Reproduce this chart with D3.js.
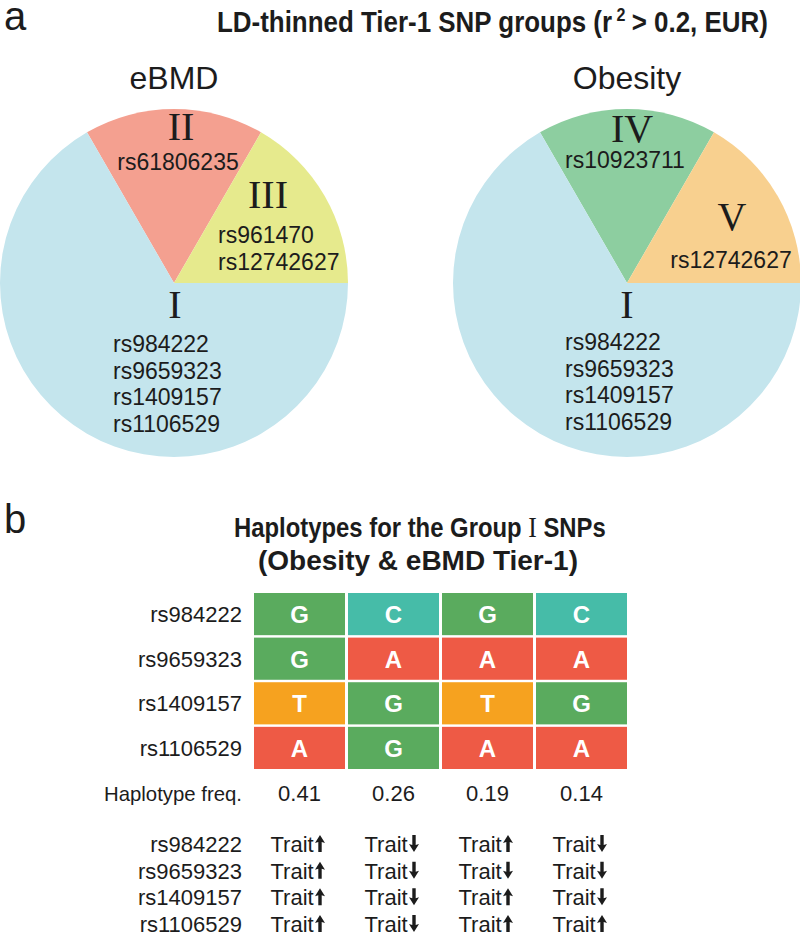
<!DOCTYPE html>
<html><head><meta charset="utf-8">
<script src="https://cdn.jsdelivr.net/npm/d3@7"></script>
<style>html,body{margin:0;padding:0;background:#fff}svg{display:block}</style>
</head><body>
<script>
// ---------- DATA ----------
const pieTraits = ["eBMD", "Obesity"];
const eBMDGroups = ["II", "III", "I"];
const eBMDShares = [1, 1, 4];
const eBMDSnps = [["rs61806235"], ["rs961470", "rs12742627"], ["rs984222", "rs9659323", "rs1409157", "rs1106529"]];
const obesityGroups = ["IV", "V", "I"];
const obesityShares = [1, 1, 4];
const obesitySnps = [["rs10923711"], ["rs12742627"], ["rs984222", "rs9659323", "rs1409157", "rs1106529"]];

const hapSnps = ["rs984222", "rs9659323", "rs1409157", "rs1106529"];
const hapAlleles = [["G", "C", "G", "C"], ["G", "A", "A", "A"], ["T", "G", "T", "G"], ["A", "G", "A", "A"]];
const hapFreq = [0.41, 0.26, 0.19, 0.14];
const traitDir = [["up", "down", "up", "down"], ["up", "down", "down", "down"], ["up", "down", "up", "down"], ["up", "down", "up", "up"]];

// ---------- STYLE / LAYOUT ----------
const W = 800, H = 947;
const sans = "Arial, 'Liberation Sans', Helvetica, sans-serif";
const serif = "'Times New Roman', 'Liberation Serif', serif";
const groupColor = { I: "#c4e5ed", II: "#f4a090", III: "#e6ea8d", IV: "#8dcea0", V: "#f8d08f" };
const alleleColor = { G: "#5aab5e", C: "#46bca8", A: "#ee5a45", T: "#f6a21f" };
const ink = "#1c1c1c";

const svg = d3.select("body").append("svg").attr("width", W).attr("height", H);

// panel letters
svg.append("text").attr("x", 4).attr("y", 30).attr("font-family", sans).attr("font-size", 40).attr("fill", ink).text("a");
svg.append("text").attr("x", 4).attr("y", 533).attr("font-family", sans).attr("font-size", 40).attr("fill", ink).text("b");

// title a (condensed bold)
const tAg = svg.append("g");
const tA = tAg.append("text").attr("x", 0).attr("y", 0).attr("font-family", sans).attr("font-weight", "bold")
  .attr("font-size", 29).attr("fill", ink);
tA.append("tspan").text("LD-thinned Tier-1 SNP groups (r");
tA.append("tspan").attr("dy", -11).attr("dx", 5).attr("font-size", 18).text("2");
tA.append("tspan").attr("dy", 11).attr("dx", 7).text("> 0.2, EUR)");
const tAw = tA.node().getBBox().width;
tAg.attr("transform", `translate(217,32) scale(${551 / tAw},1)`);

// ---------- PIES ----------
const R = 174;
const cy = 283;
const pies = [
  { name: pieTraits[0], cx: 174, groups: eBMDGroups, shares: eBMDShares, snps: eBMDSnps,
    lab: [ { n: [7, -143], l: [4, -113], a: "middle" },
           { n: [94, -75], l: [44, -40], a: "start" },
           { n: [1, 35], l: [-61, 69], a: "start" } ] },
  { name: pieTraits[1], cx: 627, groups: obesityGroups, shares: obesityShares, snps: obesitySnps,
    lab: [ { n: [5, -141], l: [-2, -115], a: "middle" },
           { n: [105, -53], l: [104, -15], a: "middle" },
           { n: [0, 35], l: [-62, 67], a: "start" } ] }
];
const pie = d3.pie().sort(null).value(d => d.share).startAngle(-Math.PI / 6).endAngle(2 * Math.PI - Math.PI / 6);
const arc = d3.arc().innerRadius(0).outerRadius(R);

pies.forEach(p => {
  const g = svg.append("g").attr("transform", `translate(${p.cx},${cy})`);
  const data = p.groups.map((gr, i) => ({ group: gr, share: p.shares[i], snps: p.snps[i] }));
  const arcs = pie(data);
  g.selectAll("path").data(arcs).join("path").attr("d", arc).attr("fill", d => groupColor[d.data.group]);

  svg.append("text").attr("x", p.cx).attr("y", 89).attr("text-anchor", "middle")
    .attr("font-family", sans).attr("font-size", 32).attr("fill", ink).text(p.name);

  arcs.forEach((a, i) => {
    const L = p.lab[i];
    g.append("text").attr("x", L.n[0]).attr("y", L.n[1]).attr("text-anchor", "middle")
      .attr("font-family", serif).attr("font-size", 40).attr("fill", ink).text(a.data.group);
    a.data.snps.forEach((s, k) => {
      g.append("text").attr("x", L.l[0]).attr("y", L.l[1] + k * 26.7).attr("text-anchor", L.a)
        .attr("font-family", sans).attr("font-size", 23).attr("fill", ink).text(s);
    });
  });
});

// ---------- PANEL b ----------
const hb1 = svg.append("text").attr("x", 0).attr("y", 0)
  .attr("font-family", sans).attr("font-weight", "bold").attr("font-size", 27).attr("fill", ink);
hb1.append("tspan").text("Haplotypes for the Group ");
hb1.append("tspan").attr("font-family", serif).attr("font-weight", "normal").attr("font-size", 29).text("I");
hb1.append("tspan").text(" SNPs");
const hb1w = hb1.node().getBBox().width;
const hb1s = 372 / hb1w;
hb1.attr("transform", `translate(${420 - 372 / 2},537) scale(${hb1s},1)`);

const hb2 = svg.append("text").attr("x", 0).attr("y", 0)
  .attr("font-family", sans).attr("font-weight", "bold").attr("font-size", 28).attr("fill", ink)
  .text("(Obesity & eBMD Tier-1)");
const hb2w = hb2.node().getBBox().width;
const hb2s = Math.min(1, 338 / hb2w);
hb2.attr("transform", `translate(${418 - hb2w * hb2s / 2},570) scale(${hb2s},1)`);

const cols = d3.range(hapFreq.length);
const x = d3.scaleBand().domain(cols).range([254, 627]).paddingInner(0.032);
const y = d3.scaleBand().domain(hapSnps).range([593, 769]).paddingInner(0.055);

const cells = [];
hapSnps.forEach((s, r) => hapAlleles[r].forEach((al, c) => cells.push({ snp: s, col: c, allele: al })));
svg.append("g").selectAll("rect").data(cells).join("rect")
  .attr("x", d => x(d.col)).attr("y", d => y(d.snp)).attr("width", x.bandwidth()).attr("height", y.bandwidth())
  .attr("fill", d => alleleColor[d.allele]);
svg.append("g").selectAll("text").data(cells).join("text")
  .attr("x", d => x(d.col) + x.bandwidth() / 2).attr("y", d => y(d.snp) + y.bandwidth() / 2 + 9)
  .attr("text-anchor", "middle").attr("font-family", sans).attr("font-weight", "bold").attr("font-size", 24)
  .attr("fill", "#fff").text(d => d.allele);

// row labels
svg.append("g").selectAll("text").data(hapSnps).join("text")
  .attr("x", 242).attr("y", d => y(d) + y.bandwidth() / 2 + 8).attr("text-anchor", "end")
  .attr("font-family", sans).attr("font-size", 22).attr("fill", ink).text(d => d);

// haplotype freq
svg.append("text").attr("x", 242).attr("y", 801).attr("text-anchor", "end")
  .attr("font-family", sans).attr("font-size", 21).attr("fill", ink)
  .attr("textLength", 138).attr("lengthAdjust", "spacingAndGlyphs").text("Haplotype freq.");
svg.append("g").selectAll("text").data(hapFreq).join("text")
  .attr("x", (d, i) => x(i) + x.bandwidth() / 2).attr("y", 801).attr("text-anchor", "middle")
  .attr("font-family", sans).attr("font-size", 22).attr("fill", ink).text(d => d.toFixed(2));

// trait effect rows
const yt = d3.scalePoint().domain(hapSnps).range([852, 932]);
svg.append("g").selectAll("text").data(hapSnps).join("text")
  .attr("x", 242).attr("y", d => yt(d)).attr("text-anchor", "end")
  .attr("font-family", sans).attr("font-size", 22).attr("fill", ink).text(d => d);

const traitCells = [];
hapSnps.forEach((s, r) => traitDir[r].forEach((dir, c) => traitCells.push({ snp: s, col: c, dir })));
const tg = svg.append("g").selectAll("g").data(traitCells).join("g")
  .attr("transform", d => `translate(${x(d.col) + x.bandwidth() / 2},${yt(d.snp)})`);
tg.append("text").attr("x", -29).attr("y", 0).attr("font-family", sans).attr("font-size", 22)
  .attr("fill", ink).text("Trait");
tg.append("path").attr("fill", ink).attr("d", d => {
  const ax = 20.5, top = -17, bot = 0, hw = 5, hh = 8, sw = 1.7;
  if (d.dir === "up") {
    return `M${ax},${top} L${ax + hw},${top + hh} L${ax + sw},${top + hh - 1} L${ax + sw},${bot} L${ax - sw},${bot} L${ax - sw},${top + hh - 1} L${ax - hw},${top + hh} Z`;
  }
  return `M${ax},${bot} L${ax + hw},${bot - hh} L${ax + sw},${bot - hh + 1} L${ax + sw},${top} L${ax - sw},${top} L${ax - sw},${bot - hh + 1} L${ax - hw},${bot - hh} Z`;
});
</script>
</body></html>
